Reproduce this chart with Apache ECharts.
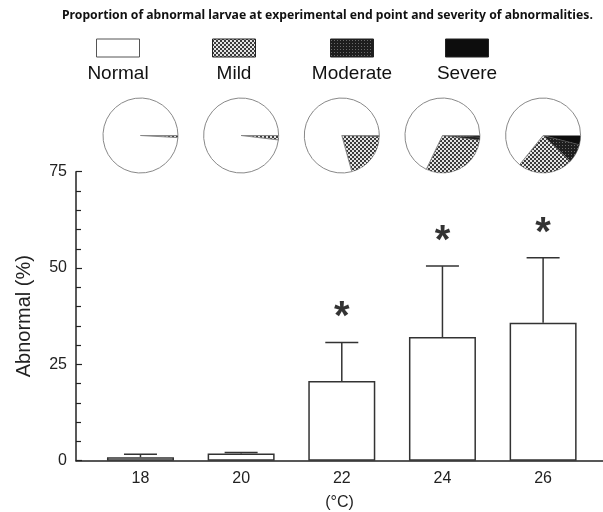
<!DOCTYPE html>
<html><head><meta charset="utf-8">
<script src="https://cdn.jsdelivr.net/npm/echarts@6/dist/echarts.min.js"></script>
<style>html,body{margin:0;padding:0;background:#fff}#c{width:603px;height:512px}</style>
</head><body><div id="c"></div>
<script>
// ---- data ----
const temperatures = [18, 20, 22, 24, 26];
const abnormalMean = [0.9, 1.9, 20.7, 32.1, 35.8];
const abnormalErr  = [0.8, 0.2, 10.0, 18.4, 16.9];
const significant  = [false, false, true, true, true];
const yTicks = [0, 25, 50, 75];
const severityNames = ['Normal', 'Mild', 'Moderate', 'Severe'];
const pieNormal   = [99.1, 98.1, 79.3, 67.9, 64.2];
const pieMild     = [0.9, 1.9, 20.2, 30.1, 23.8];
const pieModerate = [0, 0, 0.5, 1.3, 8.0];
const pieSevere   = [0, 0, 0, 0.7, 4.0];
const titleText = 'Proportion of abnormal larvae at experimental end point and severity of abnormalities.';

// ---- styles ----
function checker(dark, light) {
  const c = document.createElement('canvas'); c.width = 4; c.height = 4;
  const g = c.getContext('2d');
  g.fillStyle = light; g.fillRect(0, 0, 4, 4);
  g.fillStyle = dark; g.fillRect(0, 0, 2, 2); g.fillRect(2, 2, 2, 2);
  return { image: c, repeat: 'repeat' };
}
function dotted(bg, dot) {
  const c = document.createElement('canvas'); c.width = 3; c.height = 3;
  const g = c.getContext('2d');
  g.fillStyle = bg; g.fillRect(0, 0, 3, 3);
  g.fillStyle = dot; g.fillRect(1, 1, 1, 1);
  return { image: c, repeat: 'repeat' };
}
const fills = {
  Normal: '#ffffff',
  Mild: checker('#3c3c3c', '#e4e4e4'),
  Moderate: dotted('#1e1e1e', '#6a6a6a'),
  Severe: '#0d0d0d'
};
const FONT = '"Liberation Sans", Arial, sans-serif';

const chart = echarts.init(document.getElementById('c'), null, { renderer: 'canvas' });

// legend graphic
const legendX = [118, 234, 352, 467];
const legendEls = [];
severityNames.forEach((n, i) => {
  legendEls.push({ type: 'rect', shape: { x: legendX[i] - 21.5, y: 39, width: 43, height: 18 },
    style: { fill: fills[n], stroke: n === 'Normal' ? '#555' : '#222', lineWidth: 1 } });
  legendEls.push({ type: 'text', x: legendX[i], y: 74,
    style: { text: n, fill: '#111', font: '19px ' + FONT, textAlign: 'center', textVerticalAlign: 'middle' } });
});

chart.setOption({
  animation: false,
  title: { text: titleText, left: 57, top: 5,
    textStyle: { fontSize: 12.2, fontWeight: 'bold', color: '#111', fontFamily: '"Noto Sans", sans-serif' } },
  grid: { left: 76, right: 0, top: 171.7, bottom: 51.3, outerBoundsMode: 'none', containLabel: false },
  xAxis: {
    type: 'value', min: 16.719, max: 27.19,
    splitLine: { show: false }, axisTick: { show: false },
    axisLine: { lineStyle: { color: '#222', width: 1.5 } },
    axisLabel: { customValues: temperatures, fontSize: 16, color: '#222', margin: 10, fontFamily: FONT },
    name: '(°C)', nameLocation: 'middle', nameGap: 34,
    nameTextStyle: { fontSize: 16, color: '#222', fontFamily: FONT }
  },
  yAxis: {
    type: 'value', min: 0, max: 75, interval: 25,
    splitLine: { show: false },
    axisLine: { show: true, lineStyle: { color: '#222', width: 1.5 } },
    axisTick: { show: true, inside: true, length: 6, lineStyle: { color: '#222', width: 1.2 } },
    minorTick: { show: true, splitNumber: 5, length: 5, lineStyle: { color: '#222', width: 1.2 } },
    axisLabel: { fontSize: 16, color: '#222', margin: 9, fontFamily: FONT, customValues: yTicks },
    name: 'Abnormal (%)', nameLocation: 'middle', nameGap: 42, nameRotate: 90,
    nameTextStyle: { fontSize: 20, color: '#222', fontFamily: FONT }
  },
  graphic: legendEls,
  series: [
    { type: 'bar', barWidth: 67,
      data: temperatures.map((t, i) => [t, abnormalMean[i]]),
      itemStyle: { color: '#fff', borderColor: '#333', borderWidth: 1.5 }, silent: true },
    { type: 'custom', silent: true,
      data: temperatures.map((t, i) => [t, abnormalMean[i], abnormalErr[i]]),
      renderItem: function (params, api) {
        const x = api.value(0), m = api.value(1), e = api.value(2);
        const p0 = api.coord([x, m]), p1 = api.coord([x, m + e]);
        const st = { stroke: '#333', lineWidth: 1.5 };
        return { type: 'group', children: [
          { type: 'line', shape: { x1: p0[0], y1: p0[1], x2: p1[0], y2: p1[1] }, style: st },
          { type: 'line', shape: { x1: p1[0] - 16.5, y1: p1[1], x2: p1[0] + 16.5, y2: p1[1] }, style: st }
        ] };
      }, z: 3 },
    { type: 'scatter', silent: true, symbolSize: 0,
      data: temperatures.map((t, i) => significant[i] ? [t, abnormalMean[i] + abnormalErr[i]] : null).filter(d => d),
      label: { show: true, formatter: '*', position: 'inside', offset: [0, -24],
        fontSize: 40, fontWeight: 'bold', color: '#000', fontFamily: FONT } }
  ]
});

// pies placed above each temperature using the x axis scale
const pieSeries = temperatures.map((t, i) => {
  const cx = chart.convertToPixel({ xAxisIndex: 0 }, t);
  const d = [
    { name: 'Severe', value: pieSevere[i] },
    { name: 'Moderate', value: pieModerate[i] },
    { name: 'Mild', value: pieMild[i] },
    { name: 'Normal', value: pieNormal[i] }
  ].filter(o => o.value > 0).map(o => ({ name: o.name, value: o.value,
    itemStyle: { color: fills[o.name], borderColor: o.name === 'Normal' ? '#888' : '#555',
      borderWidth: o.name === 'Normal' ? 1 : 0.5 } }));
  return { type: 'pie', silent: true, center: [cx, 135.5], radius: 37.5, startAngle: 0, clockwise: true,
    label: { show: false }, labelLine: { show: false }, data: d, emphasis: { disabled: true } };
});
const opt = chart.getOption();
chart.setOption({ series: opt.series.concat(pieSeries) });
</script>
</body></html>
